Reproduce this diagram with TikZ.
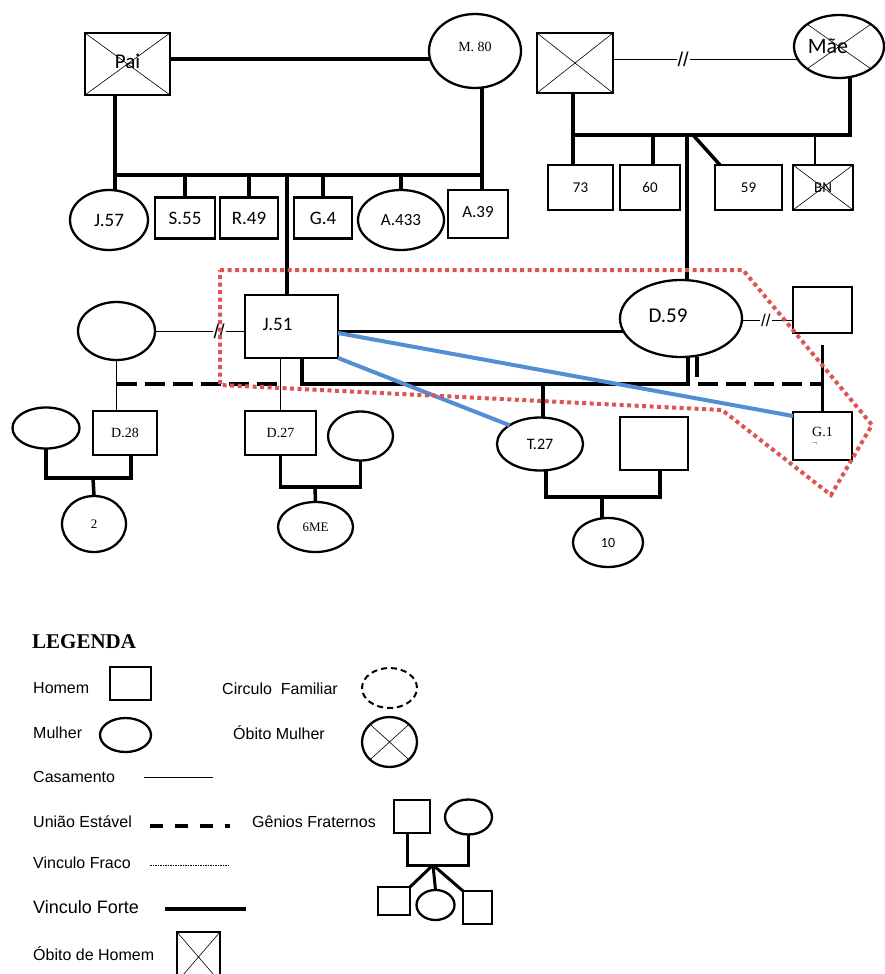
\documentclass[tikz,border=0pt]{standalone}
\usepackage{fontspec}
\setmainfont{Liberation Sans}
\newfontfamily\calibrifont{Carlito}
\newfontfamily\serifafont{Liberation Serif}
\usetikzlibrary{shapes.geometric, backgrounds}
\definecolor{azul}{RGB}{84,141,212}
\definecolor{vermelho}{RGB}{221,84,84}
\newcommand{\tam}[1]{\fontsize{#1}{#1}\selectfont}

\begin{document}
\begin{tikzpicture}[x=1pt, y=-1pt,
  homem/.style={draw, rectangle, line width=2.3pt, fill=white, inner sep=0pt, outer sep=0pt},
  mulher/.style={draw, ellipse, line width=2.3pt, fill=white, inner sep=0pt, outer sep=0pt},
  obito/.style={path picture={\draw[line width=0.6pt]
      (path picture bounding box.north west) -- (path picture bounding box.south east)
      (path picture bounding box.south west) -- (path picture bounding box.north east);}},
  forte/.style={line width=3.5pt},
  fraco/.style={line width=0.8pt},
  casamento/.style={line width=0.9pt},
  uniao/.style={line width=3.5pt, dash pattern=on 20pt off 8pt},
  vinculo/.style={draw=azul, line width=4pt},
  circulo/.style={draw=vermelho, line width=4pt, dash pattern=on 4pt off 3.5pt},
  corte/.style={fill=white, inner sep=1pt, font=\tam{20}},
  rotulo/.style={font=\calibrifont\tam{19}},
  serifa/.style={font=\serifafont\tam{14}},
  legtxt/.style={anchor=west, inner sep=0pt, font=\tam{16}}]

\useasboundingbox (0,0) rectangle (885,974);

% Pais de J.51
\node[homem, obito, minimum width=85pt, minimum height=62pt, font=\calibrifont\tam{21}] (pai) at (127.5,64) {\raisebox{6pt}{Pai}};
\node[mulher, serifa, minimum width=92pt, minimum height=74pt] (m80) at (475,51) {\raisebox{8pt}{M. 80}};

% Irmaos de J.51
\node[mulher, rotulo, minimum width=78pt, minimum height=60pt] (j57) at (109,220) {J.57};
\node[homem, rotulo, minimum width=60pt, minimum height=41pt] (s55) at (185,218) {S.55};
\node[homem, rotulo, minimum width=58pt, minimum height=41pt] (r49) at (249,218) {R.49};
\node[homem, rotulo, minimum width=58pt, minimum height=41pt] (g4) at (323,218) {G.4};
\node[mulher, rotulo, font=\calibrifont\tam{17}, minimum width=86pt, minimum height=60pt] (a433) at (401,220) {A.433};
\node[homem, rotulo, font=\calibrifont\tam{17}, minimum width=60pt, minimum height=48pt] (a39) at (478,214) {\raisebox{4pt}{A.39}};

% Pais de D.59
\node[homem, obito, minimum width=76pt, minimum height=60pt] (avo) at (575,63) {};
\node[mulher, obito, font=\calibrifont\tam{22}, minimum width=90pt, minimum height=63pt] (mae) at (839,46.5) {\hspace*{-22pt}Mãe};

% Irmaos de D.59
\node[homem, font=\calibrifont\tam{15}, minimum width=65pt, minimum height=45pt] (b73) at (580.5,187.5) {73};
\node[homem, font=\calibrifont\tam{15}, minimum width=60pt, minimum height=45pt] (b60) at (650,187.5) {60};
\node[homem, font=\calibrifont\tam{15}, minimum width=67pt, minimum height=45pt] (b59) at (748.5,187.5) {59};
\node[homem, obito, font=\calibrifont\tam{15}, minimum width=60pt, minimum height=45pt] (bn) at (823,187.5) {BN};

% Casal central
\node[mulher, minimum width=77pt, minimum height=58pt] (exj51) at (116.5,331) {};
\node[homem, font=\calibrifont\tam{19}, minimum width=93pt, minimum height=63pt] (j51) at (291.5,326.5) {\raisebox{4pt}{\hspace*{-28pt}J.51}};
\node[mulher, font=\calibrifont\tam{21}, minimum width=122pt, minimum height=77pt] (d59) at (681,318.5) {\raisebox{6pt}{\hspace*{-26pt}D.59}};
\node[homem, minimum width=59pt, minimum height=46pt] (exd59) at (822.5,310) {};

% Filhos
\node[homem, serifa, minimum width=64pt, minimum height=44pt] (d28) at (125,433) {D.28};
\node[homem, serifa, minimum width=71pt, minimum height=44pt] (d27) at (280.5,433) {D.27};
\node[mulher, font=\calibrifont\tam{16}, minimum width=86pt, minimum height=53pt] (t27) at (540,444) {T.27};
\node[homem, serifa, minimum width=59pt, minimum height=48pt] (g1) at (822.5,436) {\shortstack[l]{G.1\\[3pt]{\tam{7}$\neg$}}};
\node[mulher, minimum width=67pt, minimum height=41pt] (parceiraD28) at (46,428) {};
\node[mulher, minimum width=65pt, minimum height=49pt] (parceiraD27) at (360.5,436) {};
\node[homem, minimum width=68pt, minimum height=53pt] (parceiroT27) at (654,443.5) {};

% Netos
\node[mulher, font=\serifafont\tam{13}, minimum width=64pt, minimum height=56pt] (n2) at (94,524) {2};
\node[mulher, font=\serifafont\tam{13}, minimum width=75pt, minimum height=50pt] (n6me) at (315.5,527) {6ME};
\node[mulher, font=\calibrifont\tam{14}, minimum width=70pt, minimum height=49pt] (n10) at (608,542.5) {10};

\coordinate (irmaosA) at (115,175);
\coordinate (irmaosB) at (482,175);
\coordinate (irmaosJ) at (287,175);
\coordinate (irmaos2A) at (573,135);
\coordinate (irmaos2B) at (850,135);
\coordinate (irmaos2C) at (693,135);
\coordinate (irmaos2D) at (687,135);
\coordinate (filhos) at (688,384);
\coordinate (uniaoD) at (697,384);
\coordinate (uniaoJ) at (280,384);
\coordinate (casalD28) at (93,478);
\coordinate (casalD27) at (315,487);
\coordinate (casalT27) at (602,497);

\begin{scope}[on background layer]
% Ligacoes de cima
\draw[forte] ([yshift=5pt]pai.east) -- ([yshift=5pt]pai.east -| m80.center);
\draw[forte] ([xshift=-12.5pt]pai.south) -- (irmaosA) -- (irmaosB) -- ([xshift=7pt]m80.south);
\draw[forte] (irmaosA) -- (irmaosA |- j57.north);
\draw[forte] (irmaosB) -- (irmaosB |- a39.north);
\foreach \f in {s55, r49, g4, a433}
  \draw[forte] (\f.north) -- (\f.north |- irmaosA);
\draw[forte] (j51.north -| irmaosJ) -- (irmaosJ);

\draw[casamento] ([yshift=4pt]avo.east) -- node[corte, pos=0.31] (sep1) {//} ([yshift=4pt]avo.east -| mae.center);
\draw[forte] ([xshift=-2pt]avo.south) -- (irmaos2A) -- (irmaos2B) -- ([xshift=11pt]mae.south);
\draw[forte] (irmaos2A) -- (irmaos2A |- b73.north);
\draw[forte] ([xshift=3pt]b60.north) -- ([xshift=3pt]b60.north |- irmaos2A);
\draw[forte] (irmaos2C) -- ([xshift=5pt]b59.north west);
\draw[line width=2.5pt] ([xshift=-8pt]bn.north) -- ([xshift=-8pt]bn.north |- irmaos2A);
\draw[forte] (irmaos2D) -- (irmaos2D |- d59.north);

% Casal central
\draw[casamento] (exj51) -- node[corte, pos=0.47] (sep2) {//} (exj51 -| j51.center);
\draw[forte] ([yshift=-5pt]j51.center) -- ([yshift=-5pt]j51.center -| d59.center);
\draw[casamento] ([yshift=-1.5pt]d59.center) -- node[corte, pos=0.6, font=\tam{17}] (sep3) {//} ([yshift=-1.5pt]d59.center -| exd59.center);
\draw[forte] ([yshift=-12pt]exd59.south) -- (g1.north);

% Filhos
\draw[forte] ([xshift=10.5pt]j51.south) |- (filhos) -- ([xshift=7pt]d59.south);
\draw[forte] ([xshift=3pt]t27.north |- filhos) -- ([xshift=3pt]t27.north);
\draw[uniao] ([xshift=16pt]d59.south) -- (uniaoD) -- (uniaoD -| g1.north);
\draw[fraco] (exj51.south) -- (exj51.south |- d28.north);
\draw[uniao] (exj51.south |- filhos) -- (uniaoJ);
\draw[fraco] (d27.north) -- (d27.north |- j51.south);

% Netos
\draw[forte] (parceiraD28.south) |- (casalD28) -| ([xshift=6pt]d28.south);
\draw[forte] (casalD28) -- (n2.north);
\draw[forte] (d27.south) |- (casalD27) -| (parceiraD27.south);
\draw[forte] (casalD27) -- (n6me.north);
\draw[forte] ([xshift=6pt]t27.south) |- (casalT27) -| ([xshift=6pt]parceiroT27.south);
\draw[forte] (casalT27) -- (casalT27 |- n10.north);
\end{scope}

% Vinculos fortes
\draw[vinculo] ([yshift=-6.5pt]j51.east) -- ([yshift=20pt]g1.west);
\draw[vinculo] (j51.south east) -- (t27.north west);

% Circulo familiar
\draw[circulo] (220,270) -- (743,270) -- (872,425) -- (831,495) -- (722,410) -- (220,385) -- cycle;

% Legenda
\node[anchor=west, inner sep=0pt, font=\serifafont\bfseries\tam{21}] (legenda) at (32,642) {LEGENDA};
\node[legtxt] (tHomem) at (33,688) {Homem};
\node[homem, minimum width=41pt, minimum height=33pt] (lHomem) at (130.5,683.5) {};
\node[legtxt] (tMulher) at (33,733) {Mulher};
\node[mulher, minimum width=51pt, minimum height=34pt] (lMulher) at (125.5,735) {};
\node[legtxt] (tCasamento) at (33,777) {Casamento};
\draw[casamento] (144,777) -- (213,777);
\node[legtxt] (tUniao) at (33,822) {União Estável};
\draw[uniao, dash pattern=on 13pt off 12pt] (150,826) -- (230,826);
\node[legtxt] (tFraco) at (33,863) {Vinculo Fraco};
\draw[line width=0.6pt, dash pattern=on 1.5pt off 1pt] (150,865) -- (230,865);
\node[legtxt, font=\tam{18}] (tForte) at (33,907) {Vinculo Forte};
\draw[forte] (165,909) -- (246,909);
\node[legtxt] (tObitoH) at (33,954) {Óbito de Homem};
\node[homem, obito, minimum width=43pt, minimum height=50pt] (lObitoH) at (198.5,957) {};

\node[legtxt] (tCirculo) at (222,689) {Circulo\ \ Familiar};
\node[draw, ellipse, line width=2pt, dash pattern=on 6pt off 4pt, inner sep=0pt, minimum width=55pt, minimum height=40pt] (lCirculo) at (389.5,688) {};
\node[legtxt] (tObitoM) at (233,733) {Óbito Mulher};
\node[mulher, obito, minimum width=55pt, minimum height=50pt] (lObitoM) at (389.5,742) {};
\node[legtxt] (tGenios) at (252,822) {Gênios Fraternos};

% Genios fraternos
\node[homem, minimum width=36pt, minimum height=33pt] (gPai) at (412,816.5) {};
\node[mulher, minimum width=47pt, minimum height=35pt] (gMae) at (468.5,817) {};
\node[homem, minimum width=32pt, minimum height=28pt] (gFilho1) at (394,901) {};
\node[mulher, minimum width=38pt, minimum height=30pt] (gFilha) at (435.5,905) {};
\node[homem, minimum width=29pt, minimum height=33pt] (gFilho2) at (477.5,907.5) {};
\coordinate (gCasal) at (433,865);
\begin{scope}[on background layer]
\draw[line width=3pt] ([xshift=-5pt]gPai.south) |- (gCasal) -| (gMae.south);
\draw[line width=3pt] (gCasal) -- (gFilho1.north east);
\draw[line width=3pt] (gCasal) -- (gFilha.north);
\draw[line width=3pt] (gCasal) -- (gFilho2.north west);
\end{scope}

\end{tikzpicture}
\end{document}
